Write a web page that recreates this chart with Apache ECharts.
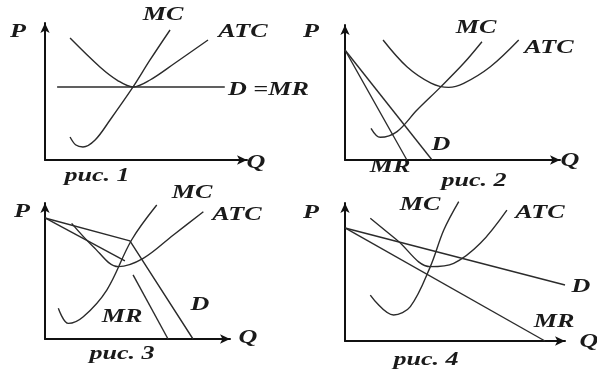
<!DOCTYPE html>
<html>
<head>
<meta charset="utf-8">
<script src="https://cdn.jsdelivr.net/npm/echarts@6/dist/echarts.min.js"></script>
<style>
html,body{margin:0;padding:0;background:#fff}
#chart{width:597px;height:369px}
</style>
</head>
<body>
<div id="chart"></div>
<script>
// рис. 1 - совершенная конкуренция
var mc1 = [[12.4,16.8],[15.3,10.9],[18.8,9.5],[24.8,14.6],[32.2,29.2],[43.6,53.3],[52,73],[61.9,94.9]];
var atc1 = [[12.4,89],[27.2,67.9],[36,58],[43.6,53.3],[52,58.4],[64.4,70.8],[80.7,87.6]];
var dmr1 = [[6,53.3],[89,53.3]];

// рис. 2
var mc2 = [[12.1,23.5],[16.4,16.8],[24.2,21],[33.5,37],[44.3,53.8],[55.2,71.6],[63.7,87.6]];
var atc2 = [[17.7,88.9],[28.8,69.1],[40,57],[48.2,53.8],[55.2,56.8],[67.6,69.1],[80.8,88.9]];
var d2 = [[0,81.5],[40.5,0]];
var mr2 = [[0,81.5],[28.8,0]];

// рис. 3 - ломаная кривая спроса
var mc3 = [[7.2,22.6],[12.6,11.5],[20.7,16.4],[33.4,36],[46.8,72.8],[60.4,98.5]];
var atc3 = [[14.4,85],[26.1,67.9],[39.6,53.2],[53.1,59.3],[69.4,76.5],[85.6,93.6]];
var d3 = [[0,89],[45.9,72.1],[80,0]];
var mrTop3 = [[0,89],[43.2,57.4]];
var mrLow3 = [[47.6,47.1],[66.5,0]];

// рис. 4
var mc4 = [[11.5,33.3],[22.1,18.8],[29.7,24.9],[38.8,53.9],[44.9,80.4],[51.7,101]];
var atc4 = [[11.5,88.9],[23.6,73.2],[38.8,53.9],[49.4,56.3],[61.5,70.8],[73.6,94.9]];
var d4 = [[0,81.9],[100,40.6]];
var mr4 = [[0,81.9],[90.9,0]];

var grids = [
    {left: 45, top: 23, width: 202, height: 137},
    {left: 345, top: 25, width: 215, height: 135},
    {left: 45, top: 203, width: 185, height: 136},
    {left: 345, top: 203, width: 220, height: 138}
];

var ink = '#2b2b2b';
var fontF = '"Liberation Serif", "DejaVu Serif", serif';

function axis(i) {
    return {
        type: 'value', gridIndex: i, min: 0, max: 100,
        axisLine: {show: true, onZero: false, symbol: ['none', 'arrow'], symbolSize: [7, 10],
            lineStyle: {color: '#111', width: 2}},
        axisTick: {show: false}, axisLabel: {show: false}, splitLine: {show: false}
    };
}

function curve(i, data, smooth) {
    return {
        type: 'line', xAxisIndex: i, yAxisIndex: i, data: data,
        showSymbol: false, smooth: smooth ? 0.35 : false,
        clip: false, silent: true,
        lineStyle: {color: ink, width: 1.4}
    };
}

// надписи в скане заметно растянуты по горизонтали
function txt(x, y, s, align) {
    return {
        type: 'text', x: x, y: y, scaleX: 1.45,
        style: {text: s, fill: '#1a1a1a', font: 'italic bold 18px ' + fontF,
            textAlign: align || 'center', textVerticalAlign: 'middle'}
    };
}

var chart = echarts.init(document.getElementById('chart'));
chart.setOption({
    backgroundColor: '#fff',
    animation: false,
    grid: grids,
    xAxis: [axis(0), axis(1), axis(2), axis(3)],
    yAxis: [axis(0), axis(1), axis(2), axis(3)],
    series: [
        curve(0, mc1, true), curve(0, atc1, true), curve(0, dmr1, false),
        curve(1, mc2, true), curve(1, atc2, true), curve(1, d2, false), curve(1, mr2, false),
        curve(2, mc3, true), curve(2, atc3, true), curve(2, d3, false), curve(2, mrTop3, false), curve(2, mrLow3, false),
        curve(3, mc4, true), curve(3, atc4, true), curve(3, d4, false), curve(3, mr4, false)
    ],
    graphic: [
        txt(18, 32, 'P'), txt(163, 15, 'MC'), txt(243, 32, 'ATC'),
        txt(228, 90, 'D =MR', 'left'),
        txt(256, 163, 'Q'), txt(97, 176, 'рис. 1'),

        txt(311, 32, 'P'), txt(476, 28, 'MC'), txt(549, 48, 'ATC'),
        txt(441, 145, 'D'), txt(390, 167, 'MR'), txt(474, 181, 'рис. 2'), txt(570, 161, 'Q'),

        txt(22, 212, 'P'), txt(192, 193, 'MC'), txt(237, 215, 'ATC'),
        txt(200, 305, 'D'), txt(122, 317, 'MR'), txt(122, 354, 'рис. 3'), txt(248, 338, 'Q'),

        txt(311, 213, 'P'), txt(420, 205, 'MC'), txt(540, 213, 'ATC'),
        txt(581, 287, 'D'), txt(554, 322, 'MR'), txt(426, 360, 'рис. 4'), txt(589, 342, 'Q')
    ]
});
</script>
</body>
</html>
